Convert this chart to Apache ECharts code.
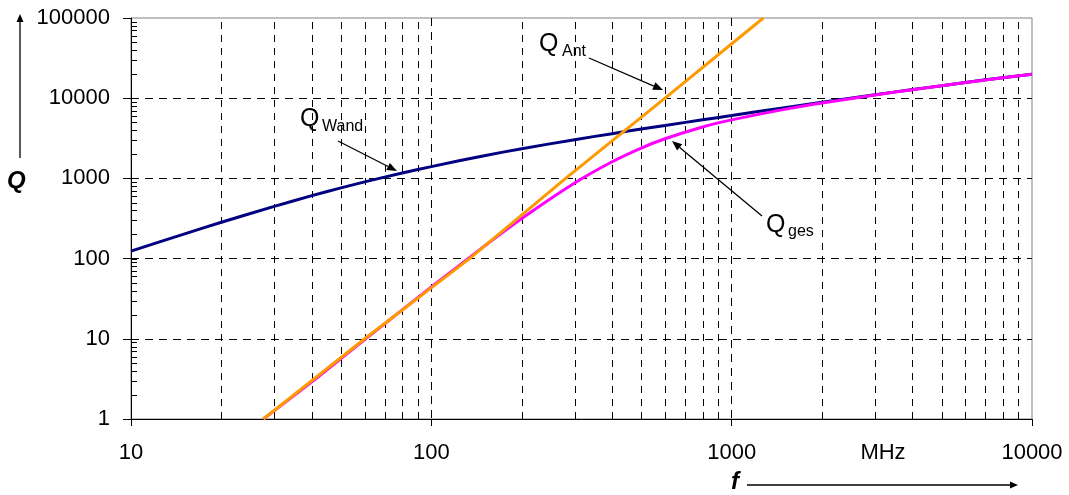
<!DOCTYPE html>
<html>
<head>
<meta charset="utf-8">
<script src="https://cdn.jsdelivr.net/npm/echarts@6/dist/echarts.min.js"></script>
<style>
html,body{margin:0;padding:0;background:#fff;}
#chart{width:1069px;height:495px;}
</style>
</head>
<body>
<div id="chart"></div>
<script>
// ---- data ----
const freqWand = [10, 15, 20, 30, 40, 50, 60, 80, 100, 150, 200, 300, 400, 500, 600, 800, 1000, 1500, 2000, 3000, 4000, 5000, 7000, 10000];
const qWand    = [124, 202, 284, 448, 610, 762, 904, 1169, 1403, 1919, 2344, 3041, 3614, 4121, 4571, 5383, 6081, 7620, 8913, 11040, 12820, 14320, 16940, 19950];

const freqAnt = [27.6, 60, 134, 280, 600, 1275];
const qAnt    = [1, 10, 100, 1000, 10000, 100000];

const freqGes = [27.6, 40, 60, 80, 100, 150, 200, 300, 400, 500, 600, 800, 1000, 1500, 2000, 3000, 4000, 5000, 7000, 10000];
const qGes    = [1, 2.9, 9.8, 22.9, 44.2, 142.5, 316, 876, 1615, 2392, 3122, 4375, 5365, 7260, 8700, 10940, 12780, 14280, 16890, 19930];

const xTickLabels = [10, 100, 1000, 10000];
const yTickLabels = [1, 10, 100, 1000, 10000, 100000];
const xMinorGrid = [20,30,40,50,60,70,80,90,200,300,400,500,600,700,800,900,2000,3000,4000,5000,6000,7000,8000,9000];
const yMinorTicks = [];
[1,10,100,1000,10000].forEach(d => { for (let k = 1; k <= 9; k++) yMinorTicks.push(k*d); });

const FONT = '"Liberation Sans", Arial, sans-serif';
const pair = (xs, ys) => xs.map((x, i) => [x, ys[i]]);

function arrow(x1, y1, x2, y2, head, hw) {
  head = head || 9; hw = hw || 3.5;
  const a = Math.atan2(y2 - y1, x2 - x1);
  const bx = x2 - head * Math.cos(a), by = y2 - head * Math.sin(a);
  const nx = -Math.sin(a) * hw, ny = Math.cos(a) * hw;
  return [
    {type:'line', silent:true, shape:{x1:x1, y1:y1, x2:bx, y2:by}, style:{stroke:'#000', lineWidth:1.3}},
    {type:'polygon', silent:true, shape:{points:[[x2,y2],[bx+nx,by+ny],[bx-nx,by-ny]]}, style:{fill:'#000'}}
  ];
}
function txt(x, y, s, size, extra) {
  return {type:'text', silent:true, x:x, y:y, style:Object.assign({
    text:s, font: size + 'px ' + FONT, fill:'#000', align:'left', verticalAlign:'middle'
  }, extra || {})};
}

const chart = echarts.init(document.getElementById('chart'), null, {renderer:'canvas'});
const yMin = 1, yMax = 100000, xMin = 10, xMax = 10000;

const option = {
  animation: false,
  backgroundColor: '#fff',
  grid: {left:131, right:37, top:18, bottom:76, show:true, borderColor:'#808080', borderWidth:1, backgroundColor:'transparent'},
  xAxis: {
    type:'log', logBase:10, min:xMin, max:xMax,
    axisLine:{show:true, onZero:false, lineStyle:{color:'#000', width:1}},
    axisTick:{show:true, length:7, lineStyle:{color:'#000'}},
    axisLabel:{fontSize:22, fontFamily:FONT, color:'#000', margin:23,
      formatter: v => { const r = Math.round(v); return xTickLabels.indexOf(r) >= 0 ? String(r) : ''; }},
    splitLine:{show:true, showMinLine:false, showMaxLine:false, lineStyle:{color:'#000', width:1, type:[8,6]}}
  },
  yAxis: {
    type:'log', logBase:10, min:yMin, max:yMax,
    axisLine:{show:true, onZero:false, lineStyle:{color:'#000', width:1}},
    axisTick:{show:true, length:8, lineStyle:{color:'#000'}},
    axisLabel:{fontSize:22, fontFamily:FONT, color:'#000', margin:21,
      formatter: v => { const r = Math.round(v); return yTickLabels.indexOf(r) >= 0 ? String(r) : ''; }},
    splitLine:{show:true, showMinLine:false, showMaxLine:false, lineStyle:{color:'#000', width:1, type:[8,6]}}
  },
  series: [
    {
      type:'custom', silent:true, z:1, clip:false,
      data: xMinorGrid.map(f => [f, yMin]),
      renderItem: (params, api) => {
        const f = api.value(0);
        const p1 = api.coord([f, yMin]), p2 = api.coord([f, yMax]);
        const x = Math.round(p1[0]) + 0.5;
        return {type:'line', shape:{x1:x, y1:p1[1], x2:x, y2:p2[1]},
          style:{stroke:'#000', lineWidth:1, lineDash:[7,6]}};
      }
    },
    {
      type:'custom', silent:true, z:3, clip:false,
      data: yMinorTicks.map(q => [xMin, q]),
      renderItem: (params, api) => {
        const p = api.coord([xMin, api.value(1)]);
        const y = Math.round(p[1]) + 0.5;
        return {type:'line', shape:{x1:p[0], y1:y, x2:p[0] + 6, y2:y},
          style:{stroke:'#000', lineWidth:1}};
      }
    },
    {
      name:'Q Wand', type:'line', z:4, data: pair(freqWand, qWand), smooth:0.25,
      symbol:'none', showSymbol:false, lineStyle:{color:'#000080', width:3}, clip:true
    },
    {
      name:'Q ges', type:'line', z:5, data: pair(freqGes, qGes), smooth:0.25,
      symbol:'none', showSymbol:false, lineStyle:{color:'#FF00FF', width:3}, clip:true
    },
    {
      name:'Q Ant', type:'line', z:6, data: pair(freqAnt, qAnt), smooth:false,
      symbol:'none', showSymbol:false, lineStyle:{color:'#FF9900', width:3}, clip:true
    }
  ],
  graphic: [].concat(
    // axis titles with arrows
    [txt(7, 181, 'Q', 24, {font:'italic bold 24px ' + FONT})],
    arrow(20, 158, 20, 14, 8, 3.5),
    [txt(731, 482, 'f', 24, {font:'italic bold 24px ' + FONT})],
    arrow(747, 485, 1018, 485, 8, 3.5),
    [txt(883, 453, 'MHz', 22, {align:'center'})],
    // Q Ant
    [txt(539, 44, 'Q', 25), txt(562, 52, 'Ant', 16)],
    arrow(589, 58, 663, 90, 10, 4),
    // Q Wand
    [txt(300, 119, 'Q', 25), txt(322, 127, 'Wand', 16)],
    arrow(338, 141, 397, 171, 10, 4),
    // Q ges
    [txt(766, 225, 'Q', 25), txt(788, 232, 'ges', 16)],
    arrow(762, 216, 672, 141, 10, 4)
  )
};
chart.setOption(option);
</script>
</body>
</html>
